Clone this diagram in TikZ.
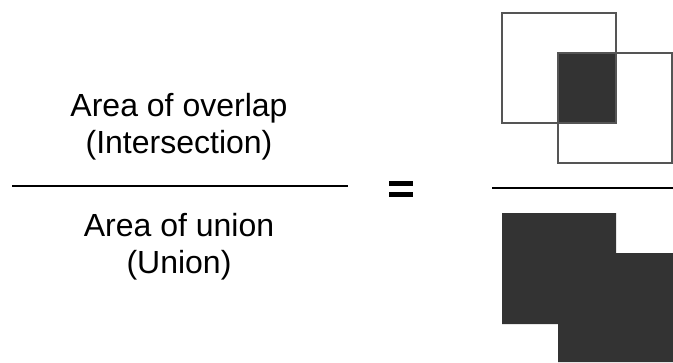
\documentclass[tikz,border=0pt]{standalone}
\usepackage{fontspec}
\setmainfont{Liberation Sans}
\definecolor{dark}{HTML}{333333}
\definecolor{edge}{HTML}{555555}
\begin{document}
\begin{tikzpicture}[x=1pt,y=-1pt,
  lbl/.style={anchor=base,inner sep=0pt,font=\fontsize{32}{38}\selectfont},
  frac/.style={line width=2pt,draw=black},
  sq/.style={draw=edge,line width=1.5pt},
  blk/.style={fill=dark,draw=none}]
\useasboundingbox (0,0) rectangle (673,362);
\fill[white] (0,0) rectangle (673,362);
% left fraction
\node[lbl] (n1) at (179,116) {Area of overlap};
\node[lbl] (n2) at (179,153) {(Intersection)};
\node[lbl] (d1) at (179,236) {Area of union};
\node[lbl] (d2) at (179,273) {(Union)};
\coordinate (la) at (12,186);
\coordinate (lb) at (348,186);
\draw[frac] (la) -- (lb);
% equals sign
\fill[black] (389,181) rectangle (413,186);
\fill[black] (389,192) rectangle (413,197);
% right fraction line
\coordinate (ra) at (492,187.5);
\coordinate (rb) at (673,187.5);
\draw[frac] (ra) -- (rb);
% intersection picture
\fill[blk] (558,53) rectangle (616,123);
\draw[sq] (502,13) rectangle (616,123);
\draw[sq] (558,53) rectangle (672,163);
% union picture
\fill[blk] (502,213) -- (616,213) -- (616,253) -- (673,253) -- (673,362) -- (558,362) -- (558,324) -- (502,324) -- cycle;
\end{tikzpicture}
\end{document}
